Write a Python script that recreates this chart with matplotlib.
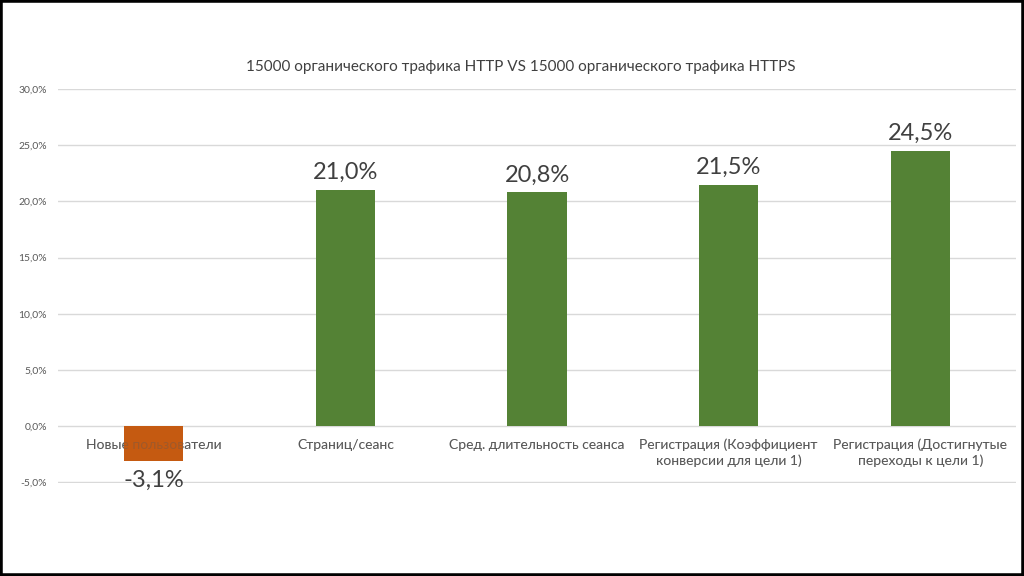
import matplotlib.pyplot as plt
from matplotlib.patches import Rectangle

categories = ['Новые пользователи', 'Страниц/сеанс', 'Сред. длительность сеанса',
              'Регистрация (Коэффициент\nконверсии для цели 1)',
              'Регистрация (Достигнутые\nпереходы к цели 1)']
values = [-3.1, 21.0, 20.8, 21.5, 24.5]
value_labels = ['-3,1%', '21,0%', '20,8%', '21,5%', '24,5%']
yticks = [-5, 0, 5, 10, 15, 20, 25, 30]
ytick_labels = ['-5,0%', '0,0%', '5,0%', '10,0%', '15,0%', '20,0%', '25,0%', '30,0%']
title = '15000 органического трафика HTTP VS 15000 органического трафика HTTPS'

plt.rcParams['font.family'] = ['Lato', 'DejaVu Sans']

fig = plt.figure(figsize=(10.24, 5.76), dpi=100)
ax = fig.add_axes([58 / 1024, 1 - 483 / 576, 958 / 1024, 394 / 576])

colors = ['#C55A11' if v < 0 else '#548235' for v in values]
x = list(range(len(values)))
ax.bar(x, values, width=0.31, color=colors, zorder=3)

ax.set_xlim(-0.5, len(values) - 0.5)
ax.set_ylim(-5.05, 30)
ax.set_yticks(yticks)
ax.set_yticklabels(ytick_labels, fontsize=7.5, color='#595959')
ax.tick_params(axis='y', length=0, pad=8)
ax.set_xticks([])
ax.grid(axis='y', color='#D9D9D9', linewidth=1, zorder=0)
for s in ax.spines.values():
    s.set_visible(False)

# category names sit under the zero line; the orange bar covers part of the first one
for i, name in enumerate(categories):
    ax.annotate(name, (i, 0), xytext=(0, -9), textcoords='offset points',
                ha='center', va='top', fontsize=10, color='#595959', zorder=2,
                linespacing=1.3)
    ax.annotate(name, (i, 0), xytext=(0, -9), textcoords='offset points',
                ha='center', va='top', fontsize=10, color='#595959', zorder=4,
                linespacing=1.3, alpha=0.35)

for i, (v, lab) in enumerate(zip(values, value_labels)):
    if v >= 0:
        ax.annotate(lab, (i, v), xytext=(0, 5), textcoords='offset points',
                    ha='center', va='bottom', fontsize=17, color='#404040')
    else:
        ax.annotate(lab, (i, v), xytext=(0, -6), textcoords='offset points',
                    ha='center', va='top', fontsize=17, color='#404040')

fig.text(521 / 1024, 1 - 67 / 576, title, ha='center', va='center',
         fontsize=11, color='#404040')

fig.patches.append(Rectangle((0, 0), 1, 1, transform=fig.transFigure,
                             fill=False, edgecolor='black', linewidth=4))

fig.savefig('out.png', dpi=100)
